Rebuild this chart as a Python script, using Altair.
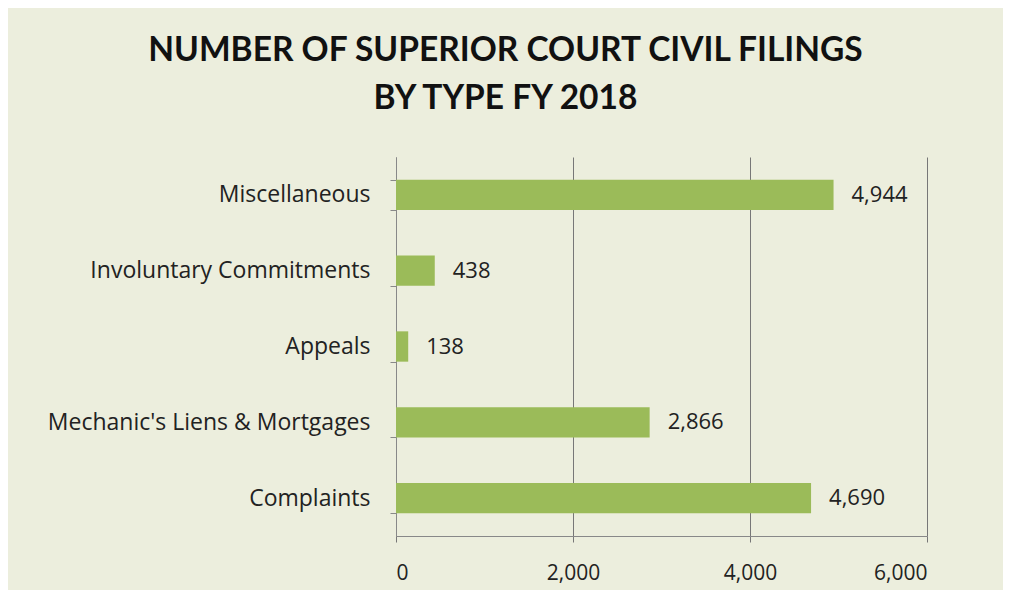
import altair as alt
import pandas as pd

categories = ["Miscellaneous", "Involuntary Commitments", "Appeals",
              "Mechanic's Liens & Mortgages", "Complaints"]
values = [4944, 438, 138, 2866, 4690]
x_ticks = [0, 2000, 4000, 6000]

df = pd.DataFrame({"type": categories, "count": values})
df["label"] = df["count"].map(lambda v: f"{v:,}")

TFONT = "Lato"
FONT = "Open Sans"
BG = "#eceedd"

y_enc = alt.Y("type:N", sort=categories, title=None,
              scale=alt.Scale(paddingInner=0.6, paddingOuter=0.3),
              axis=alt.Axis(labelFont=FONT, labelFontSize=23, labelColor="#222222",
                            labelPadding=20, labelLimit=0, tickBand="extent",
                            tickSize=6, tickColor="#888888", domainColor="#888888",
                            grid=False))
x_enc = alt.X("count:Q", title=None,
              scale=alt.Scale(domain=[0, 6000], nice=False),
              axis=alt.Axis(values=x_ticks, labelExpr="format(datum.value, ',')",
                            labelFont=FONT, labelFontSize=21, labelColor="#222222",
                            labelPadding=20, tickSize=6, tickColor="#777777",
                            domainColor="#888888", gridColor="#777777",
                            gridWidth=1))

bars = alt.Chart(df).mark_bar(color="#9bbb59").encode(x=x_enc, y=y_enc)
labels = alt.Chart(df).mark_text(align="left", dx=18, font=FONT, fontSize=22,
                                 color="#222222").encode(
    x=x_enc, y=y_enc, text="label:N")

chart = (bars + labels).properties(
    width=531, height=379,
    padding={"left": 388, "top": 149, "right": 76, "bottom": 54},
    autosize=alt.AutoSizeParams(type="none"),
    background=BG,
    title=alt.Title(["NUMBER OF SUPERIOR COURT CIVIL FILINGS", "BY TYPE FY 2018"],
                    font=TFONT, fontSize=33.5, fontWeight="bold", color="#111111",
                    anchor="middle", frame="group", dx=-156, offset=30,
                    lineHeight=48),
).configure_view(stroke=None)

chart.save("out.html", embed_options={"renderer": "svg", "actions": False})
